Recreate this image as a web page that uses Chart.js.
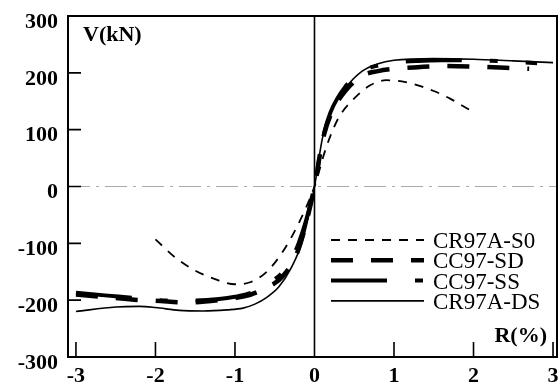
<!DOCTYPE html>
<html>
<head>
<meta charset="utf-8">
<script src="https://cdn.jsdelivr.net/npm/chart.js@4/dist/chart.umd.min.js"></script>
<style>
  html, body { margin: 0; padding: 0; background: #fff; }
  #wrap { width: 560px; height: 385px; }
</style>
</head>
<body>
<div id="wrap"><canvas id="hyst"></canvas></div>
<script>
// drift ratio R(%) vs shear V(kN)
const xTicks = [-3, -2, -1, 0, 1, 2, 3];
const yTicks = [-300, -200, -100, 0, 100, 200, 300];

const s0X = [-2.0, -1.75, -1.5, -1.25, -1.0, -0.8, -0.6, -0.4, -0.2, 0, 0.15, 0.3, 0.5, 0.7, 0.9, 1.1, 1.3, 1.5, 1.7, 1.95];
const s0Y = [-93, -125, -148, -163, -172, -168, -150, -115, -65, 0, 70, 120, 155, 178, 187, 185, 178, 168, 155, 135];

const sdX = [-3, -2.6, -2.2, -2, -1.6, -1.2, -1.0, -0.8, -0.6, -0.4, -0.2, 0, 0.1, 0.2, 0.4, 0.6, 0.8, 1.0, 1.3, 1.6, 2.0, 2.4, 2.7];
const sdY = [-190, -195, -200, -201, -204, -200, -196, -190, -178, -158, -110, 0, 80, 125, 170, 195, 203, 207, 210, 212, 211, 209, 207];

const ssX = [-3, -2.6, -2.2, -2, -1.6, -1.2, -1.0, -0.8, -0.6, -0.4, -0.2, 0, 0.1, 0.2, 0.4, 0.6, 0.8, 1.0, 1.3, 1.6, 2.0, 2.4, 2.8];
const ssY = [-187, -192, -197, -200, -201, -198, -194, -187, -172, -150, -100, 0, 82, 130, 178, 203, 213, 218, 221, 222, 222, 220, 217];

const dsX = [-3, -2.5, -2.2, -2, -1.7, -1.4, -1.1, -0.9, -0.75, -0.6, -0.45, -0.3, -0.15, 0, 0.1, 0.2, 0.4, 0.6, 0.8, 1.0, 1.5, 2.0, 2.5, 3.0];
const dsY = [-220, -212, -211, -213, -218, -219, -217, -214, -207, -195, -177, -145, -95, 0, 85, 130, 175, 203, 216, 222, 225, 224, 221, 218];

const pts = (xs, ys) => xs.map((x, i) => ({ x: x, y: ys[i] }));

const serif = '"Liberation Serif", "Times New Roman", serif';

function series(label, xs, ys, width, dash) {
	return {
		label: label,
		data: pts(xs, ys),
		showLine: true,
		borderColor: '#000',
		borderWidth: width,
		borderDash: dash,
		pointRadius: 0,
		tension: 0.4,
		cubicInterpolationMode: 'monotone',
		fill: false
	};
}

// frame, inner ticks, zero lines, axis titles and legend
const decor = {
	id: 'decor',
	beforeDatasetsDraw(chart) {
		const { ctx, chartArea: a, scales: { x, y } } = chart;
		ctx.save();
		// dash-dot zero line
		ctx.strokeStyle = '#aaa';
		ctx.lineWidth = 1.2;
		ctx.setLineDash([22, 6, 3, 6]);
		ctx.beginPath();
		ctx.moveTo(a.left, y.getPixelForValue(0));
		ctx.lineTo(a.right, y.getPixelForValue(0));
		ctx.stroke();
		ctx.setLineDash([]);
		// vertical line at R = 0
		ctx.strokeStyle = '#000';
		ctx.lineWidth = 1.6;
		ctx.beginPath();
		ctx.moveTo(x.getPixelForValue(0), a.top);
		ctx.lineTo(x.getPixelForValue(0), a.bottom);
		ctx.stroke();
		ctx.restore();
	},
	afterDraw(chart) {
		const { ctx, chartArea: a, scales: { x, y } } = chart;
		ctx.save();
		ctx.strokeStyle = '#000';
		ctx.lineWidth = 2;
		ctx.strokeRect(a.left, a.top, a.right - a.left, a.bottom - a.top);
		ctx.lineWidth = 1.6;
		ctx.beginPath();
		yTicks.slice(1, -1).forEach(v => {
			const py = y.getPixelForValue(v);
			ctx.moveTo(a.left, py);
			ctx.lineTo(a.left + 13, py);
		});
		xTicks.forEach(v => {
			if (v === 0) return;
			const px = x.getPixelForValue(v);
			ctx.moveTo(px, a.bottom);
			ctx.lineTo(px, a.bottom - 15);
		});
		ctx.stroke();

		ctx.fillStyle = '#000';
		ctx.font = 'bold 22px ' + serif;
		ctx.textBaseline = 'alphabetic';
		ctx.textAlign = 'left';
		ctx.fillText('V(kN)', a.left + 15, a.top + 25);
		ctx.textAlign = 'right';
		ctx.fillText('R(%)', a.right - 10, a.bottom - 15);

		// legend
		ctx.textAlign = 'left';
		ctx.font = '23px ' + serif;
		chart.data.datasets.forEach((ds, i) => {
			const ly = a.top + 224 + i * 20.3;
			ctx.lineWidth = ds.borderWidth;
			ctx.setLineDash(ds.borderDash);
			ctx.beginPath();
			ctx.moveTo(331, ly);
			ctx.lineTo(424, ly);
			ctx.stroke();
			ctx.setLineDash([]);
			ctx.fillText(ds.label, 433, ly + 8);
		});
		ctx.restore();
	}
};

new Chart(document.getElementById('hyst'), {
	type: 'scatter',
	data: {
		datasets: [
			series('CR97A-S0', s0X, s0Y, 1.8, [9, 8]),
			series('CC97-SD', sdX, sdY, 4.5, [22, 18]),
			series('CC97-SS', ssX, ssY, 4, [56, 28, 8, 28]),
			series('CR97A-DS', dsX, dsY, 1.6, [])
		]
	},
	options: {
		responsive: true,
		maintainAspectRatio: false,
		animation: false,
		layout: { padding: { top: 16, right: 3, left: 0, bottom: 0 } },
		plugins: { legend: { display: false }, tooltip: { enabled: false } },
		scales: {
			x: {
				type: 'linear',
				min: -3.1,
				max: 3.05,
				afterBuildTicks: s => { s.ticks = xTicks.map(v => ({ value: v })); },
				afterFit: s => { s.height = 28; s.paddingLeft = 0; s.paddingRight = 0; },
				grid: { display: false, drawTicks: false },
				border: { display: false },
				ticks: {
					padding: 6,
					color: '#000',
					font: { family: serif, size: 22, weight: 'bold' },
					callback: v => String(v)
				}
			},
			y: {
				min: -300,
				max: 300,
				afterBuildTicks: s => { s.ticks = yTicks.map(v => ({ value: v })); },
				afterFit: s => { s.width = 68; s.paddingTop = 0; s.paddingBottom = 0; },
				grid: { display: false, drawTicks: false },
				border: { display: false },
				ticks: {
					padding: 10,
					color: '#000',
					// empty first line nudges each label a little below its tick
					font: { family: serif, size: 22, weight: 'bold', lineHeight: 0.55 },
					callback: v => ['', String(v)]
				}
			}
		}
	},
	plugins: [decor]
});
</script>
</body>
</html>
